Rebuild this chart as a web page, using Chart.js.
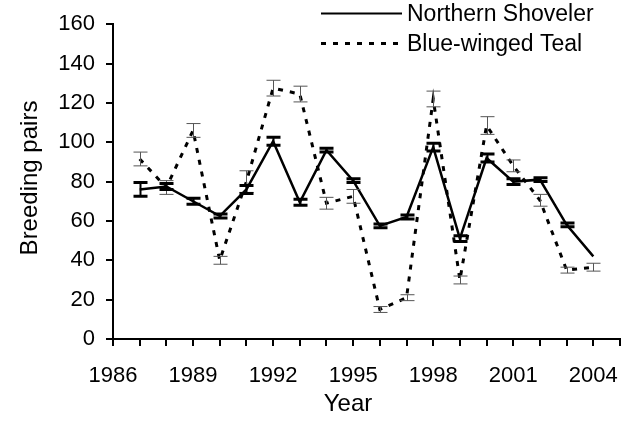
<!DOCTYPE html>
<html>
<head>
<meta charset="utf-8">
<script src="https://cdn.jsdelivr.net/npm/chart.js@4/dist/chart.umd.min.js"></script>
<style>
    body { margin: 0; background: #fff; }
    canvas { display: block; }
</style>
</head>
<body>
<canvas id="myChart" width="637" height="421"></canvas>
<script>
const years = [1987, 1988, 1989, 1990, 1991, 1992, 1993, 1994, 1995, 1996, 1997, 1998, 1999, 2000, 2001, 2002, 2003, 2004];
const shoveler = [76, 77.5, 70, 62.5, 76, 100.5, 69.5, 96, 80.5, 57.5, 62, 97.5, 51, 92, 80, 81, 58, 42];
const shovelerErr = [3.5, 1.5, 1.5, 1, 2, 2, 1.5, 1, 1, 1, 1, 2, 1.5, 2, 1.5, 1, 1, 0];
const teal = [91.5, 77, 106, 40, 80, 127.5, 124.5, 69, 72.5, 15, 21, 122, 30, 108.5, 88, 70.5, 35, 36.5];
const tealErr = [3.5, 3.5, 3.5, 2, 5.5, 4, 4, 3, 3.5, 1.5, 1.5, 4, 2, 4.5, 3, 3, 1.5, 2];
const xLabels = [1986, 1989, 1992, 1995, 1998, 2001, 2004];

const font = "'Liberation Sans', Arial, sans-serif";

function toPoints(values) {
    return years.map((y, i) => ({x: y, y: values[i]}));
}

// error bars, drawn from the data through the chart scales
const errorBars = {
    id: 'errorBars',
    afterDatasetsDraw(chart) {
        const c = chart.ctx;
        const xs = chart.scales.x;
        const ys = chart.scales.y;
        const sets = [
            {vals: teal, err: tealErr, color: '#555', width: 1, capWidth: 1, cap: 7},
            {vals: shoveler, err: shovelerErr, color: '#000', width: 2, capWidth: 3, cap: 7}
        ];
        c.save();
        for (const s of sets) {
            for (let i = 0; i < years.length; i++) {
                if (!s.err[i]) continue;
                const px = Math.round(xs.getPixelForValue(years[i])) + 0.5;
                const top = ys.getPixelForValue(s.vals[i] + s.err[i]);
                const bot = ys.getPixelForValue(s.vals[i] - s.err[i]);
                c.strokeStyle = s.color;
                c.lineWidth = s.width;
                c.beginPath();
                c.moveTo(px, top);
                c.lineTo(px, bot);
                c.stroke();
                c.lineWidth = s.capWidth;
                c.beginPath();
                c.moveTo(px - s.cap, top);
                c.lineTo(px + s.cap, top);
                c.moveTo(px - s.cap, bot);
                c.lineTo(px + s.cap, bot);
                c.stroke();
            }
        }
        c.restore();
    }
};

// legend and axis titles
const labels = {
    id: 'labels',
    afterDraw(chart) {
        const c = chart.ctx;
        c.save();
        c.fillStyle = '#000';
        c.strokeStyle = '#000';

        c.lineWidth = 2;
        c.beginPath();
        c.moveTo(321, 13.5);
        c.lineTo(402, 13.5);
        c.stroke();

        c.lineWidth = 3;
        c.setLineDash([5, 7]);
        c.beginPath();
        c.moveTo(321, 43.5);
        c.lineTo(404, 43.5);
        c.stroke();
        c.setLineDash([]);

        c.font = '23px ' + font;
        c.textAlign = 'left';
        c.textBaseline = 'alphabetic';
        c.fillText('Northern Shoveler', 407, 21);
        c.fillText('Blue-winged Teal', 407, 51);

        c.font = '24px ' + font;
        c.textAlign = 'center';
        c.fillText('Year', 348, 411);

        c.translate(37, 178);
        c.rotate(-Math.PI / 2);
        c.fillText('Breeding pairs', 0, 0);
        c.restore();
    }
};

const ctx = document.getElementById('myChart').getContext('2d');
const myChart = new Chart(ctx, {
    type: 'line',
    data: {
        datasets: [{
            label: 'Northern Shoveler',
            data: toPoints(shoveler),
            borderColor: '#000',
            borderWidth: 2.5,
            pointRadius: 0,
            fill: false,
            tension: 0
        }, {
            label: 'Blue-winged Teal',
            data: toPoints(teal),
            borderColor: '#000',
            borderWidth: 3,
            borderDash: [5, 7],
            pointRadius: 0,
            fill: false,
            tension: 0
        }]
    },
    options: {
        responsive: false,
        animation: false,
        layout: {
            padding: {top: 19, right: 11, left: 0, bottom: 0}
        },
        plugins: {
            legend: {display: false},
            tooltip: {enabled: false}
        },
        scales: {
            x: {
                type: 'linear',
                min: 1986,
                max: 2005,
                afterFit: function(scale) { scale.height = 82; },
                grid: {drawOnChartArea: false, color: '#000', lineWidth: 2, tickLength: 7},
                border: {color: '#000', width: 2},
                ticks: {
                    stepSize: 1,
                    autoSkip: false,
                    maxRotation: 0,
                    padding: 17,
                    color: '#000',
                    font: {family: font, size: 22},
                    callback: function(v) { return xLabels.includes(v) ? String(v) : ''; }
                }
            },
            y: {
                min: 0,
                max: 160,
                afterFit: function(scale) { scale.width = 113; },
                grid: {drawOnChartArea: false, color: '#000', lineWidth: 2, tickLength: 7},
                border: {color: '#000', width: 2},
                ticks: {
                    stepSize: 20,
                    padding: 11,
                    color: '#000',
                    font: {family: font, size: 22}
                }
            }
        }
    },
    plugins: [errorBars, labels]
});
</script>
</body>
</html>
